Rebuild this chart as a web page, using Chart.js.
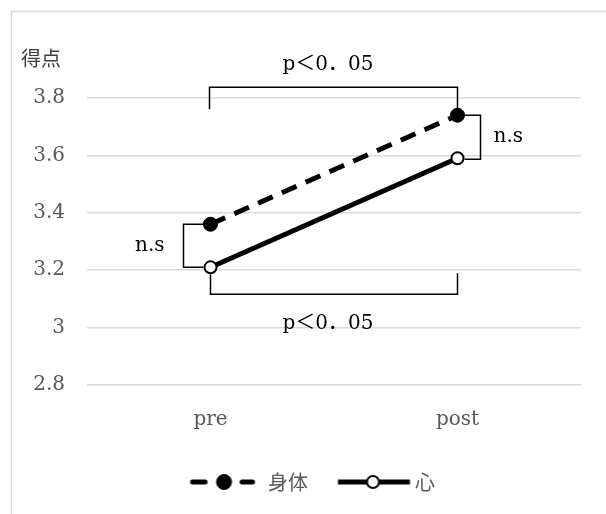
<!DOCTYPE html>
<html><head><meta charset="utf-8">
<script src="https://cdn.jsdelivr.net/npm/chart.js@4/dist/chart.umd.min.js"></script>
<style>html,body{margin:0;padding:0;background:#fff}#wrap{width:606px;height:514px;position:relative}canvas{display:block}</style>
</head><body><div id="wrap"><canvas id="c" width="606" height="514"></canvas></div>
<script>
// ---- data ----
const categories = ['pre', 'post'];
const seriesNames = ['身体', '心'];
const bodyValues = [3.36, 3.74];
const mindValues = [3.21, 3.59];
const yTicks = [2.8, 3, 3.2, 3.4, 3.6, 3.8];
const yAxisTitle = '得点';
const sigTopLabel = 'p＜0．05';
const sigBottomLabel = 'p＜0．05';
const nsLabel = 'n.s';

const SERIF = '"DejaVu Serif", serif';
const CJK = '"Noto Sans CJK JP", sans-serif';
const MIXED = '"DejaVu Serif", "Noto Sans CJK JP", serif';
const GRAY = '#595959';

const datasets = [
  { label: seriesNames[0], data: bodyValues, borderColor: '#000', borderWidth: 5, borderDash: [16, 10],
    pointRadius: 7, pointHoverRadius: 7, pointBackgroundColor: '#000', pointBorderColor: '#000', pointBorderWidth: 1,
    tension: 0, fill: false },
  { label: seriesNames[1], data: mindValues, borderColor: '#000', borderWidth: 5,
    pointRadius: 6, pointHoverRadius: 6, pointBackgroundColor: '#fff', pointBorderColor: '#000', pointBorderWidth: 2,
    tension: 0, fill: false }
];

// legend symbol images (line + marker) built from dataset styles
function makeSymbol(ds, x0, x1, mx, dashed) {
  const cv = document.createElement('canvas');
  cv.width = 100; cv.height = 20;
  const g = cv.getContext('2d');
  g.strokeStyle = ds.borderColor; g.lineWidth = ds.borderWidth;
  const cy = 10;
  if (dashed) {
    g.lineCap = 'round';
    g.beginPath();
    g.moveTo(x0 + 2.5, cy); g.lineTo(x0 + 15, cy);
    g.moveTo(x1 - 13, cy); g.lineTo(x1 - 2.5, cy);
    g.stroke();
  } else {
    g.lineCap = 'butt';
    g.beginPath(); g.moveTo(x0, cy); g.lineTo(x1, cy); g.stroke();
  }
  g.beginPath();
  g.arc(mx, cy, dashed ? 7.5 : ds.pointRadius, 0, Math.PI * 2);
  g.fillStyle = ds.pointBackgroundColor; g.fill();
  g.lineWidth = ds.pointBorderWidth; g.strokeStyle = ds.pointBorderColor; g.stroke();
  return cv;
}
const legendSymbols = [
  makeSymbol(datasets[0], 25.5, 90.5, 59.5, true),
  makeSymbol(datasets[1], 26.5, 98.5, 61.5, false)
];

const frame = {
  id: 'frame',
  beforeDraw(chart) {
    const ctx = chart.ctx;
    ctx.save();
    ctx.fillStyle = '#fff'; ctx.fillRect(0, 0, chart.width, chart.height);
    ctx.strokeStyle = '#d9d9d9'; ctx.lineWidth = 1.5;
    ctx.strokeRect(11.5, 11.5, 800, 800);
    ctx.restore();
  }
};

const annotations = {
  id: 'annotations',
  afterDatasetsDraw(chart) {
    const ctx = chart.ctx;
    const b = chart.getDatasetMeta(0).data;
    const m = chart.getDatasetMeta(1).data;
    const pre = 0, post = 1;
    ctx.save();
    ctx.strokeStyle = '#000'; ctx.lineWidth = 1.5; ctx.lineCap = 'butt';
    // top bracket (pre vs post, 身体)
    const yTop = b[post].y - 28;
    ctx.beginPath();
    ctx.moveTo(b[pre].x - 1, yTop + 22); ctx.lineTo(b[pre].x - 1, yTop);
    ctx.lineTo(b[post].x, yTop); ctx.lineTo(b[post].x, b[post].y - 6);
    ctx.stroke();
    // right bracket (post, 身体 vs 心)
    const xr = b[post].x + 23;
    ctx.beginPath();
    ctx.moveTo(b[post].x + 6, b[post].y); ctx.lineTo(xr, b[post].y);
    ctx.lineTo(xr, m[post].y + 1); ctx.lineTo(m[post].x + 7, m[post].y + 1);
    ctx.stroke();
    // left bracket (pre, 身体 vs 心)
    const xl = b[pre].x - 27;
    ctx.beginPath();
    ctx.moveTo(b[pre].x - 6, b[pre].y); ctx.lineTo(xl, b[pre].y);
    ctx.lineTo(xl, m[pre].y); ctx.lineTo(m[pre].x - 7, m[pre].y);
    ctx.stroke();
    // bottom bracket (pre vs post, 心)
    const yB = m[pre].y + 27;
    ctx.beginPath();
    ctx.moveTo(m[pre].x, m[pre].y + 7); ctx.lineTo(m[pre].x, yB);
    ctx.lineTo(m[post].x, yB); ctx.lineTo(m[post].x, yB - 21);
    ctx.stroke();
    // texts
    ctx.fillStyle = '#000';
    ctx.textBaseline = 'middle';
    ctx.font = '20px ' + MIXED;
    ctx.textAlign = 'center';
    const midX = (b[pre].x + b[post].x) / 2 - 6;
    ctx.fillText(sigTopLabel, midX, yTop - 22);
    ctx.fillText(sigBottomLabel, midX, yB + 29);
    ctx.textAlign = 'left';
    ctx.fillText(nsLabel, xr + 13, (b[post].y + m[post].y) / 2);
    ctx.textAlign = 'right';
    ctx.fillText(nsLabel, xl - 19, (b[pre].y + m[pre].y) / 2);
    // y axis title
    ctx.textAlign = 'left';
    ctx.fillStyle = '#404040';
    ctx.font = '20px ' + CJK;
    ctx.fillText(yAxisTitle, 21, chart.scales.y.top - 40);
    ctx.restore();
  }
};

new Chart(document.getElementById('c'), {
  type: 'line',
  data: { labels: categories, datasets },
  plugins: [frame, annotations],
  options: {
    responsive: false,
    animation: false,
    events: [],
    layout: { padding: { top: 98, left: 0, right: 0, bottom: 12 } },
    plugins: {
      tooltip: { enabled: false },
      legend: {
        position: 'bottom',
        labels: {
          usePointStyle: true,
          pointStyleWidth: 87,
          padding: 10,
          color: GRAY,
          font: { family: CJK, size: 20 },
          generateLabels(chart) {
            return chart.data.datasets.map((ds, i) => ({
              text: ds.label, fillStyle: ds.pointBackgroundColor, strokeStyle: ds.borderColor,
              lineWidth: 0, pointStyle: legendSymbols[i], fontColor: GRAY, hidden: false, datasetIndex: i
            }));
          }
        }
      }
    },
    scales: {
      x: {
        type: 'category',
        offset: true,
        grid: { display: false, drawTicks: false },
        border: { display: false },
        ticks: { color: GRAY, font: { family: SERIF, size: 20 }, padding: 23 },
        afterFit(s) { s.height = 77; }
      },
      y: {
        min: yTicks[0], max: yTicks[yTicks.length - 1],
        afterBuildTicks(s) { s.ticks = yTicks.map(v => ({ value: v })); },
        grid: { color: '#d9d9d9', lineWidth: 1.5, drawTicks: false },
        border: { display: false },
        ticks: { color: GRAY, font: { family: SERIF, size: 20 }, padding: 22,
                 callback: v => String(Math.round(v * 10) / 10) },
        afterFit(s) { s.width = 87; }
      },
      yR: {
        position: 'right',
        display: true,
        grid: { display: false, drawTicks: false },
        border: { display: false },
        ticks: { display: false },
        afterFit(s) { s.width = 25; }
      }
    }
  }
});
</script>
</body></html>
